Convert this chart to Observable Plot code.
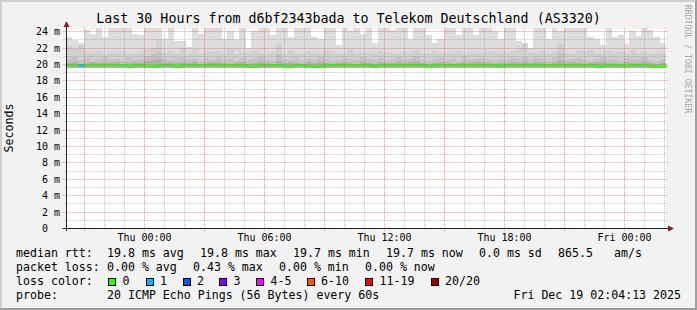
<!DOCTYPE html>
<html>
<head>
<meta charset="utf-8">
<script src="https://cdn.jsdelivr.net/npm/d3@7"></script>
<script src="https://cdn.jsdelivr.net/npm/@observablehq/plot@0.6"></script>
<style>
  html, body { margin: 0; padding: 0; background: #f2f2f2; }
  #chart { position: relative; width: 697px; height: 310px; background: #f2f2f2; overflow: hidden;
           font-family: "DejaVu Sans Mono", monospace; color: #000; }
  #chart svg { position: absolute; left: 0; top: 0; }
  .t { position: absolute; white-space: pre; line-height: 1; }
  .leg { font-size: 11.6px; }
  .box { position: absolute; width: 6px; height: 6px; border: 1px solid #000; }
  .edge { position: absolute; }
</style>
</head>
<body>
<div id="chart"></div>
<script>
// ---------------- data ----------------
const title = "Last 30 Hours from d6bf2343bada to Telekom Deutschland (AS3320)";
const yLabel = "Seconds";
const watermark = "RRDTOOL / TOBI OETIKER";

const yTickValues = [0, 2, 4, 6, 8, 10, 12, 14, 16, 18, 20, 22, 24];
const yTickLabels = ["0\u00a0\u00a0", "2 m", "4 m", "6 m", "8 m", "10 m", "12 m", "14 m", "16 m", "18 m", "20 m", "22 m", "24 m"];
const yMax = 24.39;           // ms, top of plot

const xTickHours = [0, 6, 12, 18, 24];   // hours after Thu 00:00
const xTickLabels = ["Thu 00:00", "Thu 06:00", "Thu 12:00", "Thu 18:00", "Fri 00:00"];
const endHour = 26.0703;      // Fri 02:04:13
const spanHours = 30;

// smoke layers (ms), one value per time column, outermost (lightest) first
const smokeTop = [
  23.3, 22.9, 22.5, 24.1, 23.6, 24.6, 23.3, 24.5, 24.6, 24.4, 24.6, 23.7, 23.5, 24.6, 24.6, 24.6, 23.0, 24.6, 22.8, 22.8, 22.1, 24.6, 23.6, 24.6, 24.6,
  24.6, 23.0, 24.0, 23.0, 24.6, 22.0, 24.0, 24.6, 24.6, 23.5, 24.6, 24.6, 23.3, 24.6, 24.6, 24.6, 23.3, 23.0, 24.6, 24.6, 22.3, 24.6, 24.0, 24.6, 23.6,
  24.6, 22.6, 24.6, 24.6, 24.2, 24.6, 24.6, 23.0, 24.6, 24.6, 23.5, 22.6, 23.0, 24.6, 24.6, 23.5, 24.6, 24.6, 23.5, 24.6, 24.6, 24.0, 23.0, 24.6, 24.6,
  22.8, 22.3, 22.0, 24.6, 24.6, 23.0, 24.6, 24.0, 24.6, 24.6, 24.6, 24.6, 23.3, 23.0, 22.3, 24.6, 23.3, 23.5, 22.4, 24.0, 23.4, 24.6, 24.2, 23.3, 22.6
];
const smokeMid = [
  22.2, 21.8, 22.3, 21.5, 21.3, 21.6, 21.2, 21.5, 21.4, 21.6, 21.3, 21.2, 21.5, 21.7, 21.9, 23.0, 21.4, 21.6, 21.3, 22.0, 21.2, 21.8, 21.4, 21.6, 21.5,
  21.6, 21.3, 21.8, 21.2, 21.5, 21.3, 21.6, 21.4, 21.2, 21.5, 22.5, 21.4, 21.7, 21.3, 21.2, 21.6, 21.4, 21.3, 21.7, 21.5, 21.2, 21.4, 21.8, 21.3, 21.5,
  21.4, 21.3, 21.6, 21.5, 21.3, 21.2, 21.5, 21.4, 21.7, 21.3, 21.2, 21.6, 21.4, 21.5, 21.3, 21.6, 21.2, 21.5, 21.4, 21.3, 21.6, 21.5, 21.3, 21.4, 21.6,
  21.8, 22.5, 21.5, 21.4, 21.6, 21.3, 21.5, 22.6, 21.4, 21.2, 21.6, 21.5, 21.7, 21.3, 21.4, 21.6, 21.3, 21.5, 21.4, 21.7, 21.3, 21.5, 21.2, 21.4, 21.3
];
const smokeInner = [
  20.6, 20.8, 20.5, 20.7, 20.4, 20.6, 20.9, 20.5, 20.6, 20.4, 20.7, 20.5, 20.6, 21.0, 21.2, 21.5, 20.6, 20.5, 20.7, 20.8, 20.5, 20.6, 20.4, 20.7, 20.5,
  20.8, 20.5, 20.6, 20.4, 20.7, 20.5, 20.6, 20.9, 20.5, 20.4, 21.2, 20.6, 20.5, 20.7, 20.4, 20.6, 20.5, 20.8, 20.6, 20.4, 20.5, 20.7, 20.6, 20.5, 20.9,
  20.6, 20.5, 20.7, 20.4, 20.6, 20.8, 20.5, 20.6, 21.0, 20.5, 20.4, 20.6, 20.7, 20.5, 20.6, 20.4, 20.8, 20.5, 20.6, 20.7, 20.5, 20.4, 20.6, 20.5, 20.7,
  20.6, 20.9, 20.5, 20.7, 20.6, 20.4, 20.8, 21.3, 20.5, 20.6, 20.7, 20.5, 20.4, 20.6, 20.8, 20.5, 20.6, 20.4, 20.7, 20.5, 20.6, 20.8, 20.5, 20.4, 20.6
];
const smokeCore = [
  20.1, 20.2, 20.0, 20.1, 20.2, 20.1, 20.3, 20.1, 20.2, 20.0, 20.1, 20.2, 20.1, 20.4, 20.5, 20.6, 20.1, 20.2, 20.1, 20.3, 20.1, 20.2, 20.0, 20.1, 20.2,
  20.2, 20.1, 20.0, 20.1, 20.2, 20.0, 20.1, 20.3, 20.1, 20.0, 20.4, 20.1, 20.2, 20.1, 20.0, 20.2, 20.1, 20.3, 20.1, 20.0, 20.1, 20.2, 20.1, 20.0, 20.3,
  20.1, 20.0, 20.2, 20.1, 20.1, 20.3, 20.1, 20.2, 20.4, 20.1, 20.0, 20.1, 20.2, 20.1, 20.0, 20.1, 20.3, 20.1, 20.2, 20.2, 20.1, 20.0, 20.1, 20.1, 20.2,
  20.1, 20.3, 20.1, 20.2, 20.1, 20.0, 20.2, 20.5, 20.1, 20.2, 20.1, 20.0, 20.1, 20.2, 20.3, 20.1, 20.1, 20.0, 20.2, 20.1, 20.1, 20.3, 20.1, 20.0, 20.1
];
const smokeFloor = 19.55;
const median = [
  19.85, 19.85, 19.85, 19.85, 19.85, 19.85, 19.85, 19.85, 19.85, 19.85, 19.75, 19.85, 19.85, 19.75, 19.75, 19.85, 19.85, 19.85, 19.75, 19.85, 19.85, 19.85, 19.85, 19.85, 19.85,
  19.85, 19.85, 19.85, 19.85, 19.85, 19.75, 19.75, 19.85, 19.85, 19.85, 19.85, 19.75, 19.75, 19.85, 19.85, 19.75, 19.75, 19.75, 19.85, 19.85, 19.85, 19.85, 19.85, 19.85, 19.85,
  19.85, 19.75, 19.85, 19.85, 19.85, 19.85, 19.85, 19.85, 19.85, 19.85, 19.75, 19.85, 19.85, 19.85, 19.85, 19.85, 19.85, 19.85, 19.85, 19.85, 19.85, 19.85, 19.75, 19.85, 19.85,
  19.85, 19.85, 19.85, 19.85, 19.85, 19.85, 19.85, 19.85, 19.85, 19.85, 19.85, 19.85, 19.85, 19.75, 19.75, 19.85, 19.85, 19.85, 19.75, 19.85, 19.85, 19.85, 19.75, 19.75, 19.75
];
const lostPings = [
  0, 0, 1, 0, 0, 0, 0, 0, 0, 0, 0, 0, 0, 0, 0, 0, 0, 0, 0, 0, 0, 0, 0, 0, 0,
  0, 0, 0, 0, 0, 0, 0, 0, 0, 0, 0, 0, 0, 0, 0, 0, 0, 0, 0, 0, 0, 0, 0, 0, 0,
  0, 0, 0, 0, 0, 0, 0, 0, 0, 0, 0, 0, 0, 0, 0, 0, 0, 0, 0, 0, 0, 0, 0, 0, 0,
  0, 0, 0, 0, 0, 0, 0, 0, 0, 0, 0, 0, 0, 0, 0, 0, 0, 0, 0, 0, 0, 0, 0, 0, 0
];

// legend
const rowLabels = ["median rtt:", "packet loss:", "loss color:", "probe:"];
const rttStats = ["19.8 ms avg", "19.8 ms max", "19.7 ms min", "19.7 ms now", "0.0 ms sd", "865.5", "am/s"];
const lossStats = ["0.00 % avg", "0.43 % max", "0.00 % min", "0.00 % now"];
const lossLabels = ["0", "1", "2", "3", "4-5", "6-10", "11-19", "20/20"];
const lossColors = ["#26ff00", "#00b8ff", "#0059ff", "#7e00ff", "#ff00ff", "#ff5500", "#ff0000", "#a10000"];
const probeText = "20 ICMP Echo Pings (56 Bytes) every 60s";
const dateText = "Fri Dec 19 02:04:13 2025";

// ---------------- build ----------------
const startHour = endHour - spanHours;
const nCols = median.length;
const step = spanHours / nCols;
const rows = d3.range(nCols + 1).map(i => {
  const j = Math.min(i, nCols - 1);
  return {t: startHour + i * step, top: smokeTop[j], mid: smokeMid[j], inner: smokeInner[j],
          core: smokeCore[j], median: median[j], loss: lostPings[j]};
});
const cols = rows.slice(0, nCols);

const layers = [["top", "#dddddd"], ["mid", "#d0d0d0"], ["inner", "#c2c2c2"], ["core", "#b0b0b0"]];

const minorH = d3.range(1, Math.floor(yMax) + 1).filter(v => v % 2 !== 0);
const majorH = d3.range(2, Math.floor(yMax) + 1, 2);
const hours = d3.range(Math.ceil(startHour), Math.floor(endHour) + 1);
const minorV = hours.filter(h => ((h % 3) + 3) % 3 !== 0);
const majorV = hours.filter(h => ((h % 3) + 3) % 3 === 0);

const minorColor = "rgba(143,143,143,0.55)";
const majorColor = "rgba(222,79,79,0.6)";

const plot = Plot.plot({
  width: 697, height: 310,
  marginLeft: 65.5, marginRight: 31.5, marginTop: 28, marginBottom: 82,
  style: {background: "transparent", fontFamily: "DejaVu Sans Mono", fontSize: "10px", color: "#000", overflow: "visible"},
  x: {domain: [startHour, endHour], axis: null, round: true},
  y: {domain: [0, yMax], axis: null, round: true},
  marks: [
    Plot.frame({fill: "#ffffff", stroke: "none"}),
    ...layers.map(([key, color]) => Plot.areaY(rows, {x: "t", y1: smokeFloor, y2: key, curve: "step-after", fill: color, clip: true})),
    Plot.line(rows, {x: "t", y: "median", curve: "step-after", stroke: lossColors[0], strokeWidth: 2}),
    Plot.ruleY(cols.filter(d => d.loss > 0), {y: "median", x1: "t", x2: d => d.t + step, stroke: d => lossColors[d.loss], strokeWidth: 2}),
    Plot.ruleY(minorH, {stroke: minorColor, strokeDasharray: "1,1", insetLeft: -2, insetRight: -2}),
    Plot.ruleY(majorH, {stroke: majorColor, strokeDasharray: "1,1", insetLeft: -3, insetRight: -2}),
    Plot.ruleX(minorV, {stroke: minorColor, strokeDasharray: "1,1", insetBottom: -2}),
    Plot.ruleX(majorV, {stroke: majorColor, strokeDasharray: "1,1", insetBottom: -3}),
    Plot.ruleY([0], {stroke: "#1f1f1f", insetLeft: -3, insetRight: -3}),
    Plot.ruleX([startHour], {stroke: "#1f1f1f", insetTop: -3, insetBottom: -3}),
    Plot.text(yTickValues, {y: d => d, text: (d, i) => yTickLabels[i], frameAnchor: "left", textAnchor: "end", dx: -6, fontSize: 10}),
    Plot.text(xTickHours, {x: d => d, text: (d, i) => xTickLabels[i], frameAnchor: "bottom", lineAnchor: "bottom", dy: 12, fontSize: 10})
  ]
});

const chart = document.getElementById("chart");
chart.appendChild(plot);

// axis arrows
const sx = plot.scale("x"), sy = plot.scale("y");
const ax = Math.round(sx.apply(startHour)) + 0.5;
const ay = Math.round(sy.apply(0)) + 0.5;
const topY = Math.round(sy.apply(yMax));
const rightX = Math.round(sx.apply(endHour));
const svg = d3.select(plot);
svg.append("polygon")
  .attr("points", `${ax - 3},${topY - 1} ${ax + 3},${topY - 1} ${ax},${topY - 7}`)
  .attr("fill", "#801f1f");
svg.append("polygon")
  .attr("points", `${rightX + 2},${ay - 3} ${rightX + 2},${ay + 3} ${rightX + 8},${ay}`)
  .attr("fill", "#801f1f");

// text helpers
function addText(txt, left, top, cls, extra) {
  const s = document.createElement("div");
  s.className = "t " + (cls || "");
  s.textContent = txt;
  s.style.left = left + "px";
  s.style.top = top + "px";
  if (extra) Object.assign(s.style, extra);
  chart.appendChild(s);
  return s;
}

// frame edges
[["0px", "0px", "697px", "2px", "#cfcfcf"], ["0px", "0px", "2px", "310px", "#cfcfcf"],
 ["0px", "308px", "697px", "2px", "#9e9e9e"], ["695px", "0px", "2px", "310px", "#9e9e9e"]].forEach(([l, t, w, h, c]) => {
  const e = document.createElement("div");
  e.className = "edge";
  Object.assign(e.style, {left: l, top: t, width: w, height: h, background: c});
  chart.appendChild(e);
});

// title
addText(title, 0, 12, "", {width: "697px", textAlign: "center", fontSize: "13.3px"});
// y label
addText(yLabel, 10, 128, "", {fontSize: "11.6px", transform: "translate(-50%,-50%) rotate(-90deg)"});
// watermark
addText(watermark, 688, 59, "", {fontSize: "8.2px", color: "#a8a8a8", transform: "translate(-50%,-50%) rotate(90deg)"});

// legend
const lineTops = [247.5, 261.5, 275.5, 289.5];
rowLabels.forEach((l, i) => addText(l, 16, lineTops[i], "leg"));
const rttX = [107, 200, 293, 386, 479, 558, 614];
rttStats.forEach((s, i) => addText(s, rttX[i], lineTops[0], "leg"));
const lossX = [107, 193, 279, 365];
lossStats.forEach((s, i) => addText(s, lossX[i], lineTops[1], "leg"));
const boxX = [108, 145.5, 182.5, 219, 256, 306.5, 365, 430.5];
lossLabels.forEach((l, i) => {
  const b = document.createElement("div");
  b.className = "box";
  Object.assign(b.style, {left: boxX[i] + "px", top: "278px", background: lossColors[i]});
  chart.appendChild(b);
  addText(l, boxX[i] + 14.5, lineTops[2], "leg");
});
addText(probeText, 107, lineTops[3], "leg");
addText(dateText, 0, lineTops[3], "leg", {left: "auto", right: "16px"});
</script>
</body>
</html>
